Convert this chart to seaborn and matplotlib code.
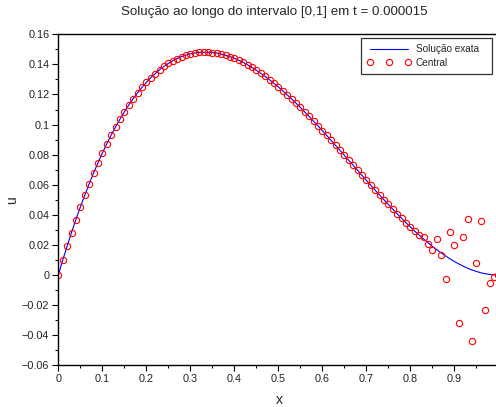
import matplotlib
matplotlib.use("Agg")
import matplotlib.pyplot as plt
import seaborn as sns
import pandas as pd
from matplotlib.ticker import MultipleLocator, FuncFormatter

# grid x = 0, 0.01, ..., 1
x = [0.00, 0.01, 0.02, 0.03, 0.04, 0.05, 0.06, 0.07, 0.08, 0.09,
     0.10, 0.11, 0.12, 0.13, 0.14, 0.15, 0.16, 0.17, 0.18, 0.19,
     0.20, 0.21, 0.22, 0.23, 0.24, 0.25, 0.26, 0.27, 0.28, 0.29,
     0.30, 0.31, 0.32, 0.33, 0.34, 0.35, 0.36, 0.37, 0.38, 0.39,
     0.40, 0.41, 0.42, 0.43, 0.44, 0.45, 0.46, 0.47, 0.48, 0.49,
     0.50, 0.51, 0.52, 0.53, 0.54, 0.55, 0.56, 0.57, 0.58, 0.59,
     0.60, 0.61, 0.62, 0.63, 0.64, 0.65, 0.66, 0.67, 0.68, 0.69,
     0.70, 0.71, 0.72, 0.73, 0.74, 0.75, 0.76, 0.77, 0.78, 0.79,
     0.80, 0.81, 0.82, 0.83, 0.84, 0.85, 0.86, 0.87, 0.88, 0.89,
     0.90, 0.91, 0.92, 0.93, 0.94, 0.95, 0.96, 0.97, 0.98, 0.99,
     1.00]

u_exata = [0.0000, 0.0098, 0.0192, 0.0282, 0.0369, 0.0451, 0.0530, 0.0605, 0.0677, 0.0745,
           0.0810, 0.0871, 0.0929, 0.0984, 0.1035, 0.1084, 0.1129, 0.1171, 0.1210, 0.1247,
           0.1280, 0.1311, 0.1338, 0.1364, 0.1386, 0.1406, 0.1424, 0.1439, 0.1452, 0.1462,
           0.1470, 0.1476, 0.1480, 0.1481, 0.1481, 0.1479, 0.1475, 0.1469, 0.1461, 0.1451,
           0.1440, 0.1427, 0.1413, 0.1397, 0.1380, 0.1361, 0.1341, 0.1320, 0.1298, 0.1274,
           0.1250, 0.1225, 0.1198, 0.1171, 0.1143, 0.1114, 0.1084, 0.1054, 0.1023, 0.0992,
           0.0960, 0.0928, 0.0895, 0.0862, 0.0829, 0.0796, 0.0763, 0.0730, 0.0696, 0.0663,
           0.0630, 0.0597, 0.0564, 0.0532, 0.0500, 0.0469, 0.0438, 0.0407, 0.0378, 0.0348,
           0.0320, 0.0292, 0.0266, 0.0240, 0.0215, 0.0191, 0.0169, 0.0147, 0.0127, 0.0108,
           0.0090, 0.0074, 0.0059, 0.0046, 0.0034, 0.0024, 0.0015, 0.0009, 0.0004, 0.0001,
           0.0000]

# central scheme: follows the exact curve up to x=0.82, then oscillates
u_central_tail = [0.0253, 0.0204, 0.0166, 0.0239, 0.0135, -0.0025, 0.0288, 0.0199,
                  -0.0317, 0.0251, 0.0372, -0.0441, 0.0078, 0.0357, -0.0235, -0.0051,
                  -0.0011, 0.0000]
u_central = u_exata[:83] + u_central_tail

df = pd.DataFrame({"x": x, "exata": u_exata, "central": u_central})

sns.set_style("ticks")
plt.rcParams["font.family"] = ["Liberation Sans", "DejaVu Sans"]
plt.rcParams["axes.unicode_minus"] = True

fig = plt.figure(figsize=(4.96, 4.07), dpi=100)
ax = fig.add_axes([58.3 / 496, 1 - 365.3 / 407, 440 / 496, 331 / 407])

sns.lineplot(data=df, x="x", y="exata", ax=ax, color="blue", linewidth=0.8,
             label="Solução exata")
sns.lineplot(data=df, x="x", y="central", ax=ax, linestyle="none", marker="o",
             markersize=4.5, markerfacecolor="none", markeredgecolor="red",
             markeredgewidth=0.8, label="Central")

ax.set_xlim(0, 1)
ax.set_ylim(-0.06, 0.16)
ax.xaxis.set_major_locator(MultipleLocator(0.1))
ax.xaxis.set_minor_locator(MultipleLocator(0.05))
ax.yaxis.set_major_locator(MultipleLocator(0.02))
ax.yaxis.set_minor_locator(MultipleLocator(0.01))


def fmt(v, pos):
    v = round(v, 6)
    if v == 0:
        return "0"
    return f"{v:g}".replace("-", "\u2212")


ax.xaxis.set_major_formatter(FuncFormatter(fmt))
ax.yaxis.set_major_formatter(FuncFormatter(fmt))
ax.tick_params(which="both", direction="out", top=False, right=False,
               colors="black", labelcolor="#222222", labelsize=7.8, width=0.8)
ax.tick_params(which="major", length=4.5, pad=2)
ax.tick_params(which="minor", length=2.5)
for side in ["left", "bottom", "top"]:
    ax.spines[side].set_linewidth(1.0)
    ax.spines[side].set_color("black")
ax.spines["right"].set_visible(False)

ax.set_xlabel("")
ax.set_ylabel("")
fig.text(279 / 496, 1 - 400 / 407, "x", ha="center", va="center", fontsize=10)
fig.text(12 / 496, 1 - 200 / 407, "u", ha="center", va="center", fontsize=10,
         rotation=90)
fig.text(274 / 496, 1 - 12 / 407, "Solução ao longo do intervalo [0,1] em t = 0.000015",
         ha="center", va="center", fontsize=9.6)

leg = ax.legend(loc="upper left",
                bbox_to_anchor=(360.7 / 496, 1 - 77 / 407, 131.6 / 496, 38.7 / 407),
                bbox_transform=fig.transFigure, mode="expand", borderaxespad=0,
                fontsize=7.2, numpoints=3, handlelength=4.4, handletextpad=0.5,
                fancybox=False, frameon=True, borderpad=0.6, labelspacing=0.35)
leg.get_frame().set_edgecolor("black")
leg.get_frame().set_linewidth(0.9)

fig.savefig("out.png", dpi=100)
